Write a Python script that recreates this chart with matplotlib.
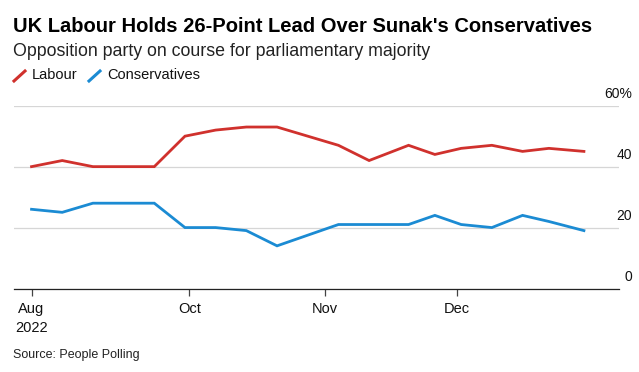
import matplotlib
matplotlib.use("Agg")
import matplotlib.pyplot as plt
import matplotlib.transforms as mtransforms
from matplotlib.lines import Line2D
import pandas as pd

plt.rcParams["font.family"] = ["Liberation Sans", "DejaVu Sans"]

# weekly People Polling voting intention, %
poll_dates = ["2022-08-26", "2022-09-02", "2022-09-09", "2022-09-16",
              "2022-09-23", "2022-09-30", "2022-10-07", "2022-10-14",
              "2022-10-21", "2022-11-04", "2022-11-11", "2022-11-20",
              "2022-11-26", "2022-12-02", "2022-12-09", "2022-12-16",
              "2022-12-22", "2022-12-30"]
labour = [40, 42, 40, 40, 40, 50, 52, 53, 53, 47, 42, 47, 44, 46, 47, 45, 46, 45]
conservatives = [26, 25, 28, 28, 28, 20, 20, 19, 14, 21, 21, 21, 24, 21, 20, 24, 22, 19]

tick_dates = ["2022-08-26", "2022-10-01", "2022-11-01", "2022-12-01"]
tick_labels = ["Aug\n2022", "Oct", "Nov", "Dec"]
y_ticks = [0, 20, 40, 60]
y_labels = ["0", "20", "40", "60%"]

RED, BLUE = "#d0312d", "#1b8bd3"
W, H = 639, 372

dates = pd.to_datetime(poll_dates)

fig = plt.figure(figsize=(W / 100, H / 100), dpi=100)
# axes placed in pixel terms of the reference
left, right, top, bottom = 14, 619, 105.7, 288.5
ax = fig.add_axes([left / W, 1 - bottom / H, (right - left) / W, (bottom - top) / H])

ax.plot(dates, labour, color=RED, lw=2.0, solid_joinstyle="miter", zorder=3)
ax.plot(dates, conservatives, color=BLUE, lw=2.0, solid_joinstyle="miter", zorder=3)

ax.set_ylim(0, 60)
ax.set_xlim(pd.Timestamp("2022-08-22"), pd.Timestamp("2023-01-07"))

for s in ("top", "left", "right"):
    ax.spines[s].set_visible(False)
ax.spines["bottom"].set_color("#222222")
ax.spines["bottom"].set_linewidth(0.9)

ax.set_yticks(y_ticks)
ax.yaxis.grid(True, color="#d6d6d6", lw=0.9)
ax.tick_params(axis="y", length=0, labelleft=False)
ax.set_axisbelow(True)

ax.set_xticks(pd.to_datetime(tick_dates))
ax.set_xticklabels(tick_labels, fontsize=10.5, color="#111111", linespacing=1.4)
ax.tick_params(axis="x", length=5, width=0.9, color="#444444", pad=5)

# y labels sit above the gridlines, right aligned past the axes
trans = mtransforms.blended_transform_factory(fig.transFigure, ax.transData)
for v, lab in zip(y_ticks, y_labels):
    ax.text(632 / W, v + 1.6, lab, transform=trans, ha="right", va="bottom",
            fontsize=10, color="#111111", clip_on=False)

# titles
fig.text(13 / W, 1 - 26 / H, "UK Labour Holds 26-Point Lead Over Sunak's Conservatives",
         fontsize=14.5, fontweight="bold", va="center", ha="left", color="#000000")
fig.text(13 / W, 1 - 51 / H, "Opposition party on course for parliamentary majority",
         fontsize=12.8, va="center", ha="left", color="#222222")

# legend with slash markers
def legend_item(x, color, label):
    fig.add_artist(Line2D([x / W, (x + 11) / W], [1 - 81 / H, 1 - 71 / H],
                          color=color, lw=2.2, transform=fig.transFigure))
    fig.text((x + 18) / W, 1 - 75 / H, label, fontsize=10.5, va="center",
             ha="left", color="#111111")

legend_item(14, RED, "Labour")
legend_item(89, BLUE, "Conservatives")

fig.text(13 / W, 1 - 355 / H, "Source: People Polling", fontsize=9,
         va="center", ha="left", color="#222222")

fig.savefig("out.png", dpi=100)
